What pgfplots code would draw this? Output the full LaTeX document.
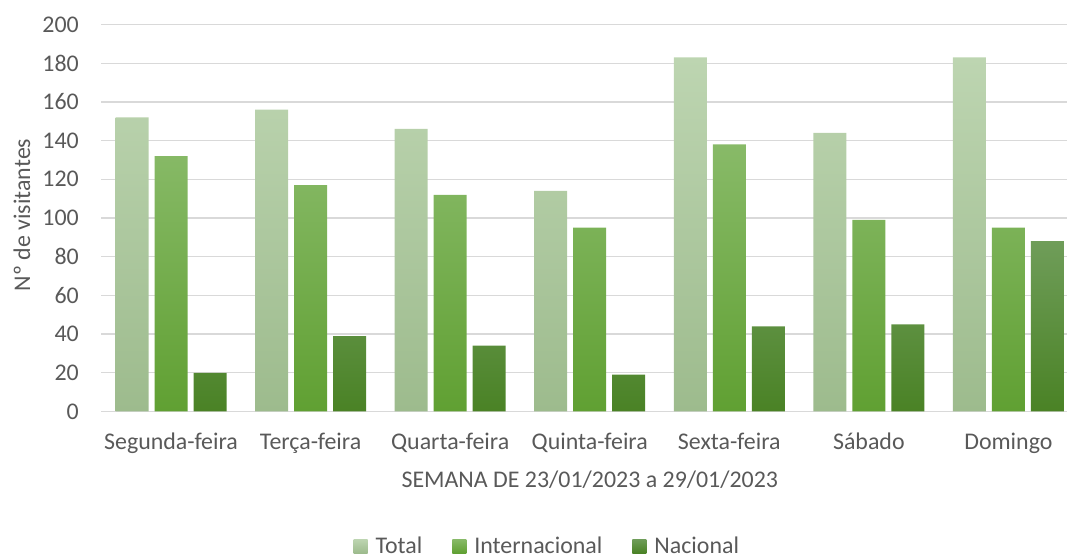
\documentclass[border=0pt]{standalone}
\usepackage{fontspec}
\setmainfont{Carlito}
\usepackage{pgfplots}
\pgfplotsset{compat=1.18}
\definecolor{txt}{HTML}{595959}
\definecolor{gridc}{HTML}{D9D9D9}
\definecolor{totT}{HTML}{BDD5B1}
\definecolor{totB}{HTML}{9DBB8D}
\definecolor{intT}{HTML}{88BA68}
\definecolor{intB}{HTML}{60A032}
\definecolor{nacT}{HTML}{6F9D59}
\definecolor{nacB}{HTML}{4A8225}
\begin{document}
\begin{tikzpicture}[x=1bp,y=1bp]
\path[use as bounding box] (0,0) rectangle (1067,558);
\begin{axis}[
  at={(101bp,146.5bp)}, anchor=south west,
  scale only axis, width=966bp, height=387bp,
  xmin=-0.502, xmax=6.42, ymin=0, ymax=200,
  ybar=6bp, bar width=33bp,
  xtick={0,1,2,3,4,5,6},
  xticklabels={Segunda-feira,Terça-feira,Quarta-feira,Quinta-feira,Sexta-feira,Sábado,Domingo},
  ytick={0,20,...,200},
  ymajorgrids, major grid style={draw=gridc, line width=1.3bp},
  axis line style={draw=none}, tick style={draw=none},
  /pgf/number format/assume math mode=true,
  tick label style={font=\fontsize{24}{28}\selectfont, text=txt},
  yticklabel style={inner sep=0pt, anchor=east, xshift=-22bp},
  xticklabel style={inner sep=0pt, anchor=north, yshift=-17bp},
  xlabel={SEMANA DE 23/01/2023 a 29/01/2023},
  ylabel={Nº de visitantes},
  label style={font=\fontsize{24}{28}\selectfont, text=txt},
  xlabel style={at={(rel axis cs:0.506,-0.177)}, anchor=center, inner sep=0pt},
  ylabel style={at={(rel axis cs:-0.0818,0.508)}, anchor=center, rotate=0, inner sep=0pt},
  legend columns=3,
  legend style={at={(rel axis cs:0.462,-0.348)}, anchor=center, draw=none, fill=none,
    font=\fontsize{24}{28}\selectfont, text=txt, inner sep=0pt,
    /tikz/every odd column/.append style={column sep=6bp},
    /tikz/every even column/.append style={column sep=28bp}},
  legend image code/.code={\path[#1, draw=none] (0bp,-7bp) rectangle (14bp,7bp);},
]
\addplot[draw=none, top color=totT, bottom color=totB] coordinates {(0,152) (1,156) (2,146) (3,114) (4,183) (5,144) (6,183)};
\addplot[draw=none, top color=intT, bottom color=intB] coordinates {(0,132) (1,117) (2,112) (3,95) (4,138) (5,99) (6,95)};
\addplot[draw=none, top color=nacT, bottom color=nacB] coordinates {(0,20) (1,39) (2,34) (3,19) (4,44) (5,45) (6,88)};
\legend{Total,Internacional,Nacional}
\end{axis}
\end{tikzpicture}
\end{document}
